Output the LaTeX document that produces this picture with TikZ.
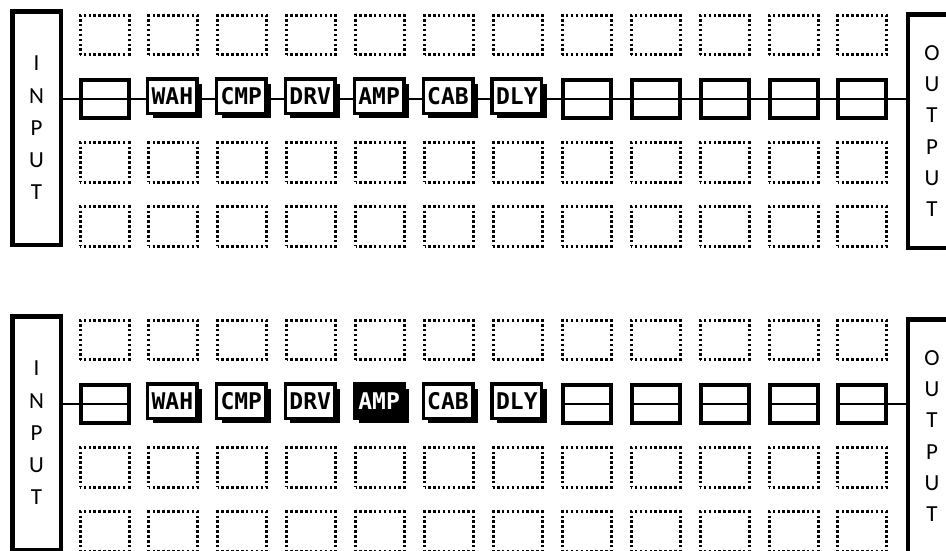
\documentclass[tikz,border=0pt]{standalone}
\usepackage{fontspec}
\newfontfamily\lettersfont{Carlito}
\newfontfamily\fxfont{DejaVu Sans Mono}
\usetikzlibrary{shadows}

\begin{document}
\begin{tikzpicture}[x=1pt, y=-1pt,
    slot/.style={draw, line width=3pt, dash pattern=on 2.5pt off 2.4pt,
      dash phase=1.25pt, minimum width=49pt, minimum height=39.2pt, inner sep=0pt},
    chainslot/.style={draw, line width=4pt, minimum width=48pt,
      minimum height=38pt, inner sep=0pt},
    fx/.style={draw, fill=white, line width=3.5pt, minimum width=49.5pt,
      minimum height=34.5pt, inner sep=0pt,
      font=\fxfont\bfseries\fontsize{23}{23}\selectfont,
      drop shadow={shadow xshift=5pt, shadow yshift=-5pt, opacity=1, fill=black}},
    fxon/.style={fx, fill=black, text=white},
    io/.style={draw, line width=4.5pt, minimum width=48.5pt,
      minimum height=233.5pt, inner sep=0pt, align=center,
      font=\lettersfont\fontsize{23}{32.2}\selectfont},
    wire/.style={line width=2.5pt}]
  \useasboundingbox (0,0) rectangle (946,550);
  \clip (0,0) rectangle (946,550);
  % Both boards: free slots, input and output
  \foreach \p/\dy in {A/0, B/305} {
    \foreach \c in {1,...,12}
      \foreach \r/\ry in {1/35, 3/162.5, 4/226.5}
        \node[slot] (s\p-\r-\c) at ({104.5+(\c-1)*68.9}, {\ry+\dy}) {};
    \node[io] (in\p) at (36.5, {128+\dy}) {I\\N\\P\\U\\T};
    \node[io, font=\lettersfont\fontsize{23}{31.2}\selectfont]
      (out\p) at (932, {131+\dy}) {O\\U\\T\\P\\U\\T};
    % empty places of the chain
    \foreach \c in {1,8,9,10,11,12}
      \node[chainslot] (ch\p\c) at ({104.5+(\c-1)*68.9}, {99+\dy}) {};
  }
  % Top board: the signal runs through the whole chain
  \draw[wire] (inA.east |- chA1) -- (outA.west |- chA1);
  \foreach \c/\t in {2/WAH, 3/CMP, 4/DRV, 5/AMP, 6/CAB, 7/DLY}
    \node[fx] (fxA\c) at ({103.5+(\c-1)*68.9}, 96) {\t};
  % Bottom board: only the empty places are wired
  \foreach \c in {1,8,9,10,11,12}
    \draw[wire] (chB\c.west) -- (chB\c.east);
  \draw[wire] (inB.east |- chB1) -- (chB1.west);
  \draw[wire] (chB12.east) -- (outB.west |- chB12);
  \foreach \c/\t/\s in {2/WAH/fx, 3/CMP/fx, 4/DRV/fx, 5/AMP/fxon, 6/CAB/fx, 7/DLY/fx}
    \node[\s] (fxB\c) at ({103.5+(\c-1)*68.9}, 401) {\t};
\end{tikzpicture}
\end{document}
